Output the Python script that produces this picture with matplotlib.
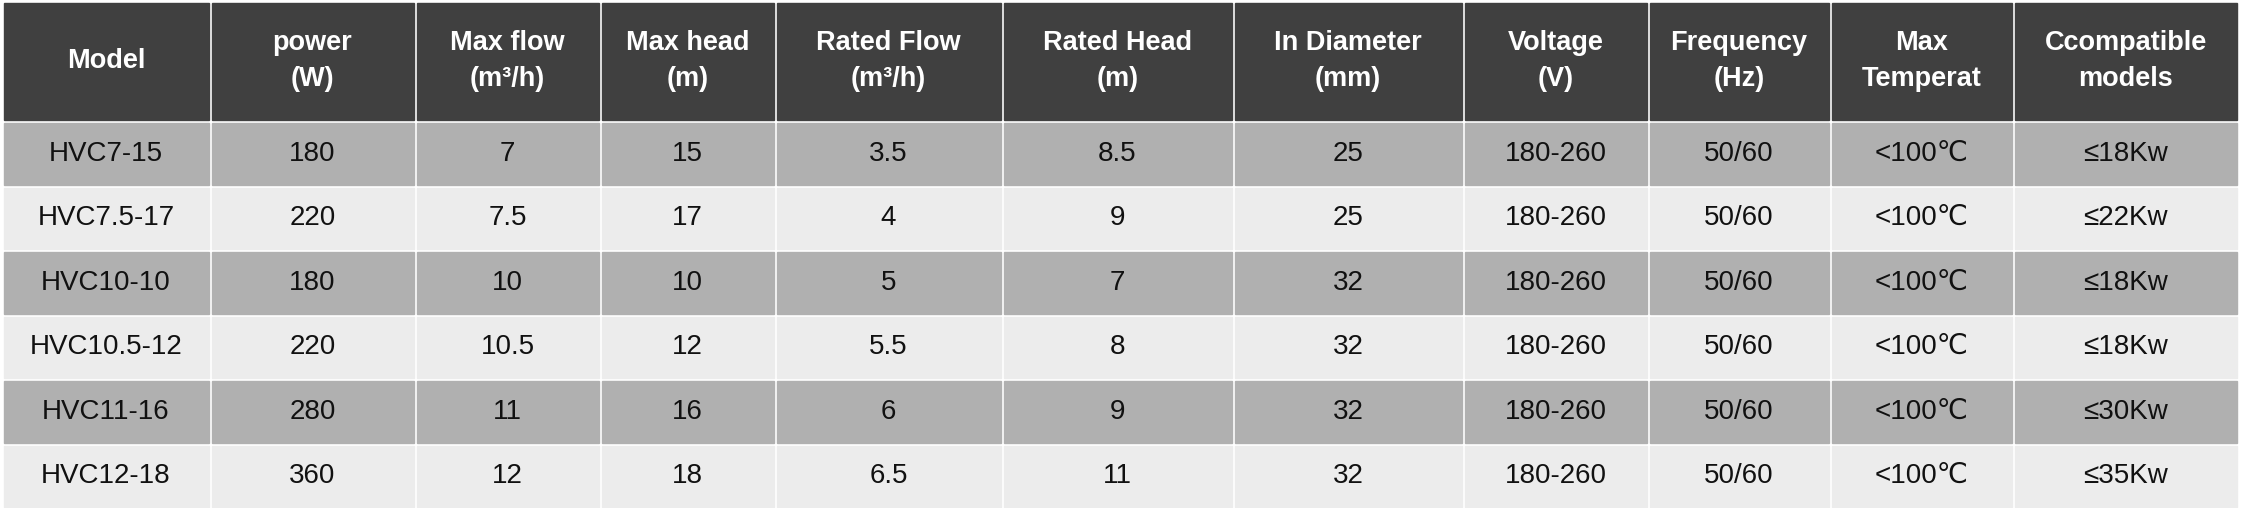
import matplotlib.pyplot as plt
from matplotlib.patches import Rectangle

headers = ["Model", "power\n(W)", "Max flow\n(m³/h)", "Max head\n(m)", "Rated Flow\n(m³/h)",
           "Rated Head\n(m)", "In Diameter\n(mm)", "Voltage\n(V)", "Frequency\n(Hz)",
           "Max\nTemperat", "Ccompatible\nmodels"]
models = ["HVC7-15", "HVC7.5-17", "HVC10-10", "HVC10.5-12", "HVC11-16", "HVC12-18"]
power = ["180", "220", "180", "220", "280", "360"]
max_flow = ["7", "7.5", "10", "10.5", "11", "12"]
max_head = ["15", "17", "10", "12", "16", "18"]
rated_flow = ["3.5", "4", "5", "5.5", "6", "6.5"]
rated_head = ["8.5", "9", "7", "8", "9", "11"]
diameter = ["25", "25", "32", "32", "32", "32"]
voltage = ["180-260"] * 6
frequency = ["50/60"] * 6
max_temp = ["<100℃"] * 6
compatible = ["≤18Kw", "≤22Kw", "≤18Kw", "≤18Kw", "≤30Kw", "≤35Kw"]

columns = [models, power, max_flow, max_head, rated_flow, rated_head,
           diameter, voltage, frequency, max_temp, compatible]

# column edges in pixels (original image)
col_edges = [2, 210, 415, 600, 775, 1002, 1233, 1463, 1648, 1830, 2013, 2238]
header_h = 120
row_h = 64.5
top = 3
gap = 3

fig = plt.figure(figsize=(22.42, 5.08), dpi=100)
ax = fig.add_axes([0, 0, 1, 1])
ax.set_xlim(0, 2242)
ax.set_ylim(508, 0)
ax.axis("off")

fams = ["Liberation Sans", "DejaVu Sans", "Noto Sans CJK SC"]
for c in range(len(headers)):
    x0, x1 = col_edges[c] + gap / 2, col_edges[c + 1] - gap / 2
    ax.add_patch(Rectangle((x0, top), x1 - x0, header_h - gap, color="#404040"))
    ax.text((x0 + x1) / 2, top + (header_h - gap) / 2, headers[c], color="white",
            fontsize=19.5, fontweight="bold", ha="center", va="center",
            linespacing=1.5, family=fams)
    for r, val in enumerate(columns[c]):
        y0 = top + header_h + r * row_h
        fc = "#b0b0b0" if r % 2 == 0 else "#ececec"
        ax.add_patch(Rectangle((x0, y0), x1 - x0, row_h - gap, color=fc))
        ax.text((x0 + x1) / 2, y0 + (row_h - gap) / 2, val, color="#111111",
                fontsize=20, ha="center", va="center", family=fams)

fig.savefig("out.png", dpi=100, facecolor="white")
